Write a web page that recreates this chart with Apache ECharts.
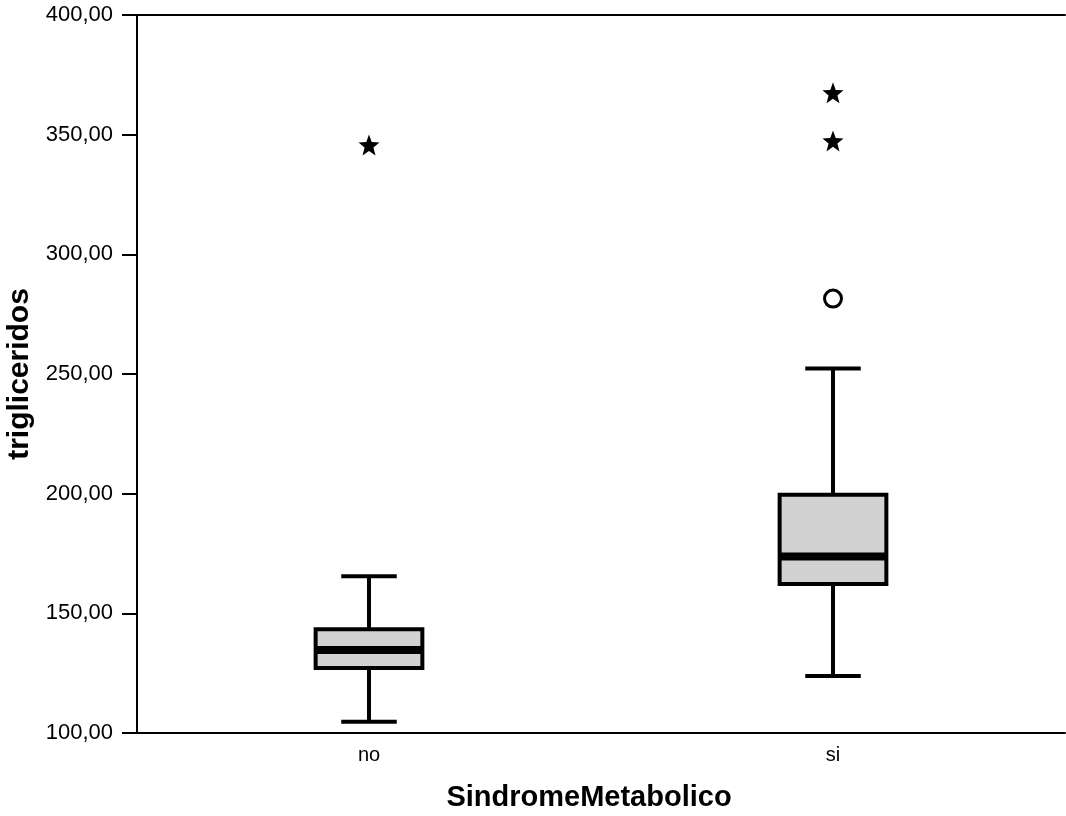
<!DOCTYPE html>
<html>
<head>
<meta charset="utf-8">
<script src="https://cdn.jsdelivr.net/npm/echarts@6/dist/echarts.min.js"></script>
<style>
html,body{margin:0;padding:0;background:#fff;}
#chart{width:1066px;height:816px;}
</style>
</head>
<body>
<div id="chart"></div>
<script>
// ---- data ----
const categories = ['no', 'si'];
// [min whisker, Q1, median, Q3, max whisker]
const boxNo = [104.7, 127.2, 134.7, 143.4, 165.5];
const boxSi = [123.8, 162.3, 173.7, 199.5, 252.3];
// outliers: [category index, value]
const outlierCircles = [[1, 281.5]];
const outlierStars = [[0, 345.7], [1, 367.5], [1, 347.4]];
const yTicks = [100, 150, 200, 250, 300, 350, 400];

const boxData = [[0].concat(boxNo), [1].concat(boxSi)];

// 5-point star path (shape only)
function starPath() {
  const pts = [];
  for (let i = 0; i < 10; i++) {
    const r = i % 2 === 0 ? 10 : 4.2;
    const a = -Math.PI / 2 + i * Math.PI / 5;
    pts.push((10 + r * Math.cos(a)).toFixed(2) + ' ' + (10 + r * Math.sin(a)).toFixed(2));
  }
  return 'path://M' + pts.join(' L') + ' Z';
}

const chart = echarts.init(document.getElementById('chart'));
const fmt = v => v.toFixed(2).replace('.', ',');
const FONT = 'Liberation Sans, Arial, sans-serif';

chart.setOption({
  backgroundColor: '#fff',
  animation: false,
  grid: { left: 137, right: 1, top: 15, bottom: 83, containLabel: false, outerBoundsMode: 'none' },
  xAxis: [{
    type: 'category',
    data: categories,
    boundaryGap: true,
    position: 'bottom',
    axisLine: { lineStyle: { color: '#000', width: 2 } },
    axisTick: { alignWithLabel: true, length: 12, lineStyle: { color: '#000', width: 2 } },
    axisLabel: { color: '#000', fontSize: 20, fontFamily: FONT, margin: 12 },
    name: 'SindromeMetabolico',
    nameLocation: 'middle',
    nameGap: 50,
    nameTextStyle: { color: '#000', fontSize: 29, fontWeight: 'bold', fontFamily: FONT, padding: [0, 24, 0, 0] },
    splitLine: { show: false }
  }, {
    type: 'category',
    data: categories,
    position: 'top',
    axisLine: { show: true, lineStyle: { color: '#000', width: 2 } },
    axisTick: { show: false },
    axisLabel: { show: false }
  }],
  yAxis: {
    type: 'value',
    min: 100,
    max: 400,
    interval: 50,
    axisLine: { show: true, lineStyle: { color: '#000', width: 2 } },
    axisTick: { show: true, length: 15, lineStyle: { color: '#000', width: 2 } },
    axisLabel: { color: '#000', fontSize: 22, fontFamily: FONT, margin: 24,
      formatter: v => yTicks.indexOf(v) >= 0 ? fmt(v) : '' },
    splitLine: { show: false },
    name: 'trigliceridos',
    nameLocation: 'middle',
    nameGap: 94,
    nameTextStyle: { color: '#000', fontSize: 30, fontWeight: 'bold', fontFamily: FONT }
  },
  series: [{
    type: 'custom',
    data: boxData,
    encode: { x: 0, y: [1, 2, 3, 4, 5] },
    renderItem: function (params, api) {
      const cat = api.value(0);
      const pMin = api.coord([cat, api.value(1)]);
      const pQ1 = api.coord([cat, api.value(2)]);
      const pMed = api.coord([cat, api.value(3)]);
      const pQ3 = api.coord([cat, api.value(4)]);
      const pMax = api.coord([cat, api.value(5)]);
      const band = api.size([1, 0])[0];
      const bw = band * 0.23;
      const cw = bw * 0.52;
      const x = pMed[0];
      const ls = { stroke: '#000', lineWidth: 4 };
      return {
        type: 'group',
        children: [
          { type: 'line', shape: { x1: x, y1: pQ3[1], x2: x, y2: pMax[1] }, style: ls },
          { type: 'line', shape: { x1: x, y1: pQ1[1], x2: x, y2: pMin[1] }, style: ls },
          { type: 'line', shape: { x1: x - cw / 2, y1: pMax[1], x2: x + cw / 2, y2: pMax[1] }, style: ls },
          { type: 'line', shape: { x1: x - cw / 2, y1: pMin[1], x2: x + cw / 2, y2: pMin[1] }, style: ls },
          { type: 'rect', shape: { x: x - bw / 2, y: pQ3[1], width: bw, height: pQ1[1] - pQ3[1] },
            style: { fill: '#d2d2d2', stroke: '#000', lineWidth: 4 } },
          { type: 'line', shape: { x1: x - bw / 2, y1: pMed[1], x2: x + bw / 2, y2: pMed[1] },
            style: { stroke: '#000', lineWidth: 8 } }
        ]
      };
    },
    z: 2
  }, {
    type: 'scatter',
    data: outlierCircles,
    symbol: 'circle',
    symbolSize: 17,
    itemStyle: { color: '#fff', borderColor: '#000', borderWidth: 3, opacity: 1 },
    z: 3
  }, {
    type: 'scatter',
    data: outlierStars,
    symbol: starPath(),
    symbolSize: 21,
    itemStyle: { color: '#000', opacity: 1 },
    z: 3
  }]
});
</script>
</body>
</html>
